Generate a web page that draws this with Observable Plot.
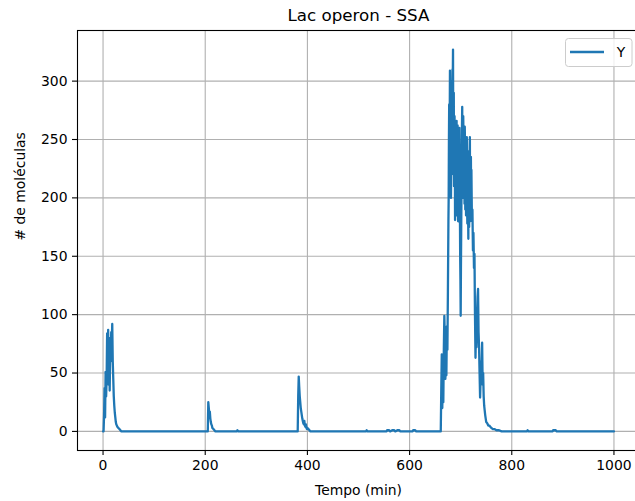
<!DOCTYPE html>
<html>
<head>
<meta charset="utf-8">
<script src="https://cdn.jsdelivr.net/npm/d3@7"></script>
<script src="https://cdn.jsdelivr.net/npm/@observablehq/plot@0.6"></script>
<style>
  html, body { margin: 0; padding: 0; background: white; overflow: hidden; }
  #wrap { width: 635px; height: 501px; overflow: hidden; }
  #wrap svg { max-width: none !important; }
</style>
</head>
<body>
<div id="wrap"></div>
<script>
const title = "Lac operon - SSA";
const xLabel = "Tempo (min)";
const yLabel = "# de moléculas";
const seriesName = "Y";
const xTicks = [0, 200, 400, 600, 800, 1000];
const yTicks = [0, 50, 100, 150, 200, 250, 300];

// time (min) and molecule count
const tempo = [
  0, 1, 2, 3, 4, 5, 6, 7, 8, 9, 10, 11, 12, 13, 14, 15, 16, 17, 18, 19, 20, 21, 22, 23, 24, 25, 26, 27, 28, 30, 32, 34, 36,
  205, 206, 207, 208, 209, 210, 211, 212, 213, 214, 216, 218, 220,
  262, 263, 265,
  381, 382, 383, 384, 385, 386, 387, 388, 389, 390, 391, 392, 393, 394, 395, 396, 397, 398, 399, 400, 402, 404, 406,
  515, 516, 518, 555, 556, 560, 562, 566, 570, 572, 576, 580, 582, 606, 607, 611, 613,
  659, 661, 662, 663, 664, 665, 666, 667, 668, 669, 670, 671, 672, 673, 674, 675, 676, 677, 678, 679,
  680, 681, 682, 683, 684, 685, 686, 687, 688, 689, 690, 691, 692, 693, 694, 695, 696, 697, 698, 699,
  700, 701, 702, 703, 704, 705, 706, 707, 708, 709, 710, 711, 712, 713, 714, 715, 716, 717, 718, 719,
  720, 721, 722, 723, 724, 725, 726, 727, 728, 729, 730, 731, 732, 733, 734, 735, 736, 737, 738, 739,
  740, 741, 742, 743, 744, 745, 746, 747, 748, 749, 750, 752, 754, 756, 758, 760, 763, 766, 770, 775, 780,
  830, 831, 833, 880, 881, 886, 888,
  1000
];
const moleculas = [
  0, 0, 14, 37, 12, 51, 30, 45, 84, 50, 87, 40, 80, 35, 70, 60, 85, 75, 92, 60, 45, 30, 22, 16, 12, 8, 6, 5, 4, 3, 2, 1, 0,
  0, 25, 20, 14, 17, 11, 8, 6, 5, 3, 2, 1, 0,
  0, 1, 0,
  0, 30, 47, 38, 30, 25, 20, 17, 14, 11, 9, 7, 6, 9, 5, 4, 6, 3, 2, 3, 2, 1, 0,
  0, 1, 0, 0, 1, 1, 0, 1, 1, 0, 1, 1, 0, 0, 1, 1, 0,
  0, 0, 35, 66, 20, 50, 25, 70, 99, 80, 45, 60, 48, 90, 70, 120, 180, 250, 220, 309,
  240, 200, 280, 250, 310, 327, 260, 210, 270, 181, 240, 200, 266, 210, 262, 180, 240, 200, 230, 150,
  99, 170, 230, 278, 240, 270, 200, 250, 261, 190, 230, 200, 252, 178, 235, 165, 220, 195, 252, 200,
  235, 224, 180, 190, 155, 170, 140, 152, 100, 63, 90, 72, 100, 115, 122, 85, 72, 50, 29, 45,
  60, 55, 76, 40, 50, 30, 22, 18, 14, 11, 8, 7, 5, 5, 4, 3, 2, 2, 1, 1, 0,
  0, 1, 0, 0, 1, 1, 0,
  0
];
// extra readings between whole minutes in the dense main burst
const tempoBurst = [
  676.5, 677.5, 678.5, 679.5, 680.5, 681.5, 682.5, 683.5, 684.5, 685.5, 686.5, 687.5, 688.5, 689.5,
  690.5, 691.5, 692.5, 693.5, 694.5, 695.5, 696.5, 697.5, 698.5, 699.5, 700.5, 701.5, 702.5, 703.5,
  704.5, 705.5, 706.5, 707.5, 708.5, 709.5, 710.5, 711.5, 712.5, 713.5, 714.5, 715.5, 716.5, 717.5,
  718.5, 719.5, 720.5
];
const moleculasBurst = [
  200, 280, 260, 280, 300, 230, 220, 290, 300, 240, 290, 230, 250, 220,
  190, 250, 185, 250, 200, 250, 185, 260, 190, 130, 140, 200, 260, 210,
  200, 250, 230, 195, 240, 250, 185, 240, 200, 225, 190, 240, 175, 240,
  180, 225, 200
];

const data = tempo.map((t, i) => ({t, y: moleculas[i]}))
  .concat(tempoBurst.map((t, i) => ({t, y: moleculasBurst[i]})))
  .sort((a, b) => a.t - b.t);
const font = "DejaVu Sans, sans-serif";
const fmt = d3.format("d");

const chart = Plot.plot({
  width: 640,
  height: 501,
  marginTop: 30,
  marginBottom: 51,
  marginLeft: 77,
  marginRight: 1,
  style: {fontFamily: font, fontSize: "13.9px", color: "black", background: "white", overflow: "visible", maxWidth: "none"},
  x: {domain: [-50, 1050]},
  y: {domain: [-16.35, 343.35]},
  marks: [
    Plot.gridX(xTicks, {stroke: "#b0b0b0", strokeOpacity: 1, strokeWidth: 1.1}),
    Plot.gridY(yTicks, {stroke: "#b0b0b0", strokeOpacity: 1, strokeWidth: 1.1}),
    Plot.line(data, {x: "t", y: "y", stroke: "#1f77b4", strokeWidth: 2.3}),
    Plot.frame({stroke: "black", strokeWidth: 1.1}),
    Plot.axisX(xTicks, {tickSize: 5, tickPadding: 5, label: null, fontSize: 13.9, strokeWidth: 1.1, tickFormat: fmt}),
    Plot.axisY(yTicks, {tickSize: 5, tickPadding: 5, label: null, fontSize: 13.9, strokeWidth: 1.1, tickFormat: fmt}),
    Plot.text([title], {frameAnchor: "top", dy: -15, fontSize: 16.7, lineAnchor: "middle"}),
    Plot.text([xLabel], {frameAnchor: "bottom", dy: 40, fontSize: 13.9, lineAnchor: "middle"}),
    Plot.text([yLabel], {frameAnchor: "left", dx: -57, rotate: -90, fontSize: 13.9, lineAnchor: "middle"})
  ]
});

// legend (upper right, inside axes)
const svg = d3.select(chart);
const lg = svg.append("g").attr("font-family", font).attr("font-size", 13.9);
lg.append("rect").attr("x", 565.5).attr("y", 38.5).attr("width", 66.5).attr("height", 28)
  .attr("rx", 3).attr("fill", "white").attr("fill-opacity", 0.8).attr("stroke", "#cccccc").attr("stroke-width", 1);
lg.append("line").attr("x1", 570).attr("x2", 604).attr("y1", 52).attr("y2", 52)
  .attr("stroke", "#1f77b4").attr("stroke-width", 2.3);
lg.append("text").attr("x", 621).attr("y", 52).attr("dy", "0.35em").attr("text-anchor", "middle")
  .attr("fill", "black").text(seriesName);

document.getElementById("wrap").appendChild(chart);
</script>
</body>
</html>
